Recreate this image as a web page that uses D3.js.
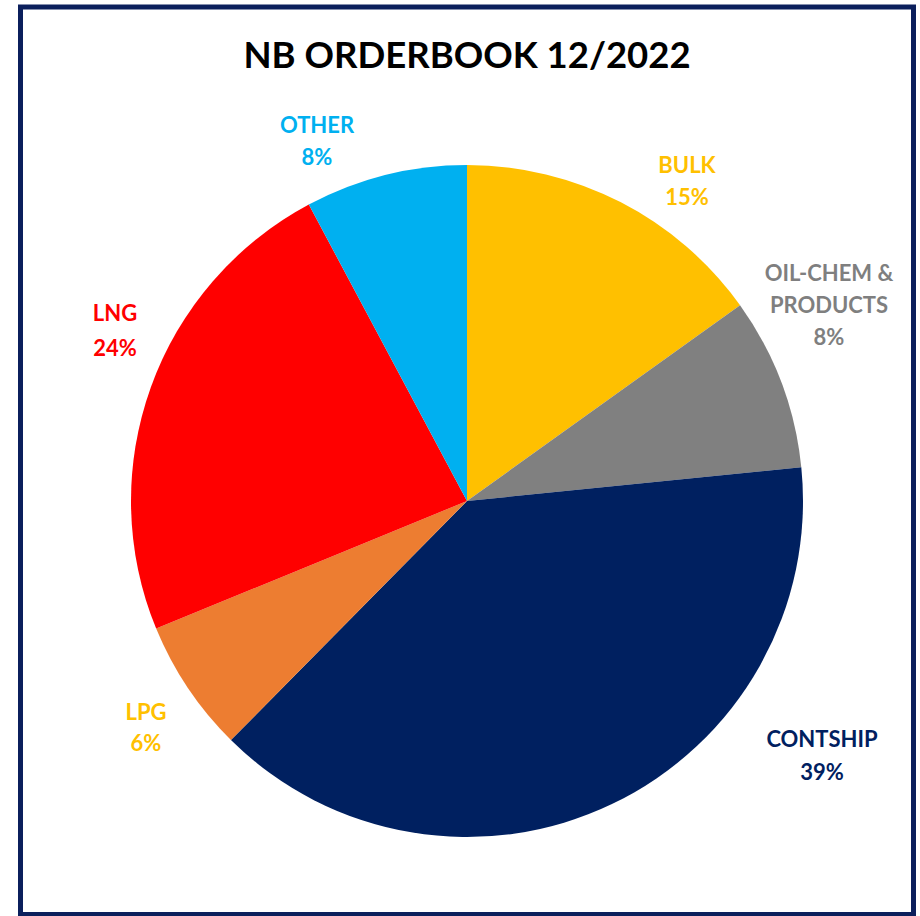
<!DOCTYPE html>
<html>
<head>
<meta charset="utf-8">
<script src="https://cdn.jsdelivr.net/npm/d3@7"></script>
<style>
  html, body { margin: 0; padding: 0; background: #fff; }
  svg { display: block; }
  text { font-family: Lato, "Open Sans", "Noto Sans", sans-serif; font-weight: 700; }
</style>
</head>
<body>
<svg id="chart" width="920" height="916"></svg>
<script>
// ---- data ----
const categories = ["BULK", "OIL-CHEM & PRODUCTS", "CONTSHIP", "LPG", "LNG", "OTHER"];
const shares = [15.1, 8.3, 39.0, 6.4, 23.4, 7.8];
const shareLabels = ["15%", "8%", "39%", "6%", "24%", "8%"];
const titleText = "NB ORDERBOOK 12/2022";

// ---- styles / layout ----
const sliceColors = ["#FFC000", "#808080", "#002060", "#ED7D31", "#FF0000", "#00B0F0"];
const labelColors = ["#FFC000", "#7F7F7F", "#002060", "#FFC000", "#FF0000", "#00B0F0"];
const labelLines = [["BULK"], ["OIL-CHEM &", "PRODUCTS"], ["CONTSHIP"], ["LPG"], ["LNG"], ["OTHER"]];
// label anchor (x, y of first line centre) relative to pie centre
const labelOffsets = [[220, -336], [362, -228], [355, 238], [-321, 211], [-352, -188], [-150, -376]];
const lineStep = [32, 32, 33, 31, 35, 32];

const W = 920, H = 916;
const cx = 467, cy = 501, R = 336;

const svg = d3.select("#chart");

svg.append("rect")
  .attr("x", 20.5).attr("y", 7)
  .attr("width", 893).attr("height", 907.5)
  .attr("fill", "#fff")
  .attr("stroke", "#0B1F5C")
  .attr("stroke-width", 5);

svg.append("text")
  .attr("x", cx).attr("y", 68)
  .attr("text-anchor", "middle")
  .attr("font-size", 36.5)
  .attr("fill", "#000")
  .text(titleText);

const data = categories.map((c, i) => ({ cat: c, value: shares[i], i }));
const pie = d3.pie().value(d => d.value).sort(null).startAngle(0).endAngle(2 * Math.PI);
const arc = d3.arc().innerRadius(0).outerRadius(R);

const g = svg.append("g").attr("transform", `translate(${cx},${cy})`);
g.selectAll("path.slice")
  .data(pie(data))
  .join("path")
  .attr("class", "slice")
  .attr("d", arc)
  .attr("fill", d => sliceColors[d.data.i]);

const labels = g.selectAll("g.lbl")
  .data(pie(data))
  .join("g")
  .attr("class", "lbl")
  .attr("transform", d => `translate(${labelOffsets[d.data.i][0]},${labelOffsets[d.data.i][1]})`);

labels.each(function(d) {
  const i = d.data.i;
  const lines = labelLines[i].concat([shareLabels[i]]);
  const sel = d3.select(this);
  lines.forEach((ln, k) => {
    sel.append("text")
      .attr("x", 0)
      .attr("y", k * lineStep[i])
      .attr("dy", "0.36em")
      .attr("text-anchor", "middle")
      .attr("font-size", 22)
      .attr("fill", labelColors[i])
      .text(ln);
  });
});
</script>
</body>
</html>
